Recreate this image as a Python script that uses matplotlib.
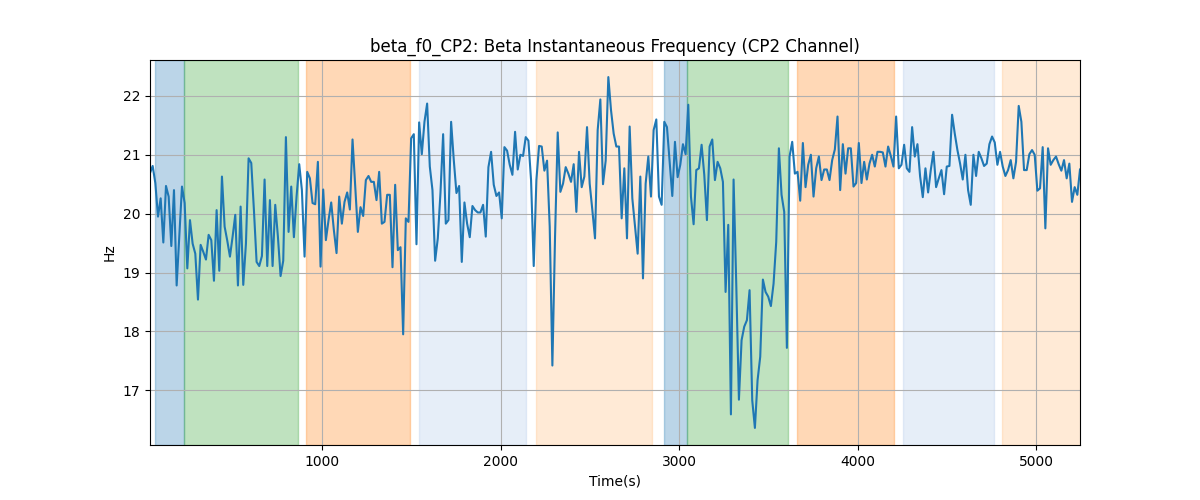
import numpy as np
import matplotlib.pyplot as plt

#================== DATA ===================
t_start = 33
t_end = 5247

freq_hz = [
    20.69, 20.81, 20.52, 19.95, 20.26, 19.51, 20.47, 20.29, 19.45, 20.40, 18.78, 19.61,
    20.46, 20.18, 19.07, 19.89, 19.49, 19.32, 18.54, 19.47, 19.35, 19.22, 19.64, 19.55,
    18.86, 20.06, 19.03, 20.63, 19.78, 19.54, 19.27, 19.61, 19.98, 18.78, 20.12, 18.79,
    19.49, 20.94, 20.86, 20.06, 19.18, 19.11, 19.28, 20.58, 19.11, 20.23, 19.11, 20.15,
    19.61, 18.94, 19.20, 21.30, 19.69, 20.46, 19.60, 20.29, 20.84, 20.40, 19.27, 20.71,
    20.60, 20.18, 20.16, 20.88, 19.10, 20.41, 19.55, 19.89, 20.19, 19.72, 19.33, 20.29,
    # ~1100 s
    19.83, 20.20, 20.36, 20.07, 21.26, 20.46, 19.69, 20.11, 19.96, 20.57, 20.64, 20.54,
    20.54, 20.23, 20.71, 19.83, 19.86, 20.32, 20.32, 19.09, 20.49, 19.38, 19.43, 17.95,
    19.92, 19.86, 21.28, 21.35, 19.48, 21.55, 21.01, 21.56, 21.87, 20.80, 20.40, 19.20,
    19.58, 20.35, 21.35, 19.83, 19.89, 21.56, 20.91, 20.35, 20.47, 19.18, 20.19, 19.83,
    19.60, 20.13, 20.06, 20.02, 20.02, 20.15, 19.61, 20.79, 21.05, 20.49, 20.30, 20.36,
    19.92, 21.13, 21.07, 20.83, 20.66, 21.39, 20.75, 21.00, 20.98, 21.30, 21.24,
    # ~2150 s
    20.57, 19.11, 20.57, 21.15, 21.14, 20.73, 20.90, 19.78, 17.42, 19.61, 21.38, 20.37,
    20.51, 20.79, 20.68, 20.54, 20.84, 20.03, 21.05, 20.45, 20.63, 21.47, 20.51, 20.06,
    19.58, 21.42, 21.94, 20.50, 20.90, 22.32, 21.76, 21.36, 21.14, 21.14, 19.92, 20.77,
    19.58, 21.48, 20.26, 19.78, 19.32, 20.63, 18.90, 20.51, 20.97, 20.29, 21.42, 21.60,
    20.29, 20.15, 21.56, 21.47, 20.88, 20.30, 21.22, 20.62, 20.83, 21.18, 21.01, 21.85,
    20.29, 19.82, 20.74, 20.77, 21.17, 20.66, 19.89, 21.14, 21.26, 20.57, 20.88,
    # ~3200 s
    20.77, 20.54, 18.67, 19.81, 16.59, 20.58, 18.81, 16.84, 17.85, 18.08, 18.19, 18.70,
    16.83, 16.36, 17.17, 17.57, 18.88, 18.67, 18.59, 18.43, 18.81, 19.52, 21.11, 20.32,
    20.03, 17.72, 20.97, 21.22, 20.68, 20.71, 20.22, 21.20, 20.45, 20.83, 21.00, 20.29,
    20.77, 20.97, 20.57, 20.75, 20.75, 20.57, 20.91, 21.09, 21.65, 20.40, 21.18, 20.68,
    21.11, 21.11, 20.46, 20.52, 21.20, 20.52, 20.88, 20.58, 20.85, 21.00, 20.80, 21.05,
    21.05, 21.04, 20.80, 21.14, 20.98, 20.80, 21.65, 20.77, 20.83, 21.17, 20.77, 20.71,
    # ~4300 s
    21.47, 20.97, 21.18, 20.63, 20.28, 20.77, 20.36, 20.74, 21.05, 20.45, 20.60, 20.74,
    20.33, 20.80, 20.81, 21.68, 21.36, 21.08, 20.85, 20.58, 21.00, 20.40, 20.15, 21.00,
    20.64, 21.05, 20.94, 20.81, 20.85, 21.18, 21.31, 21.21, 20.83, 21.05, 20.80, 20.64,
    20.74, 20.91, 20.60, 20.88, 21.83, 21.56, 20.74, 20.74, 21.01, 21.08, 21.00, 20.39,
    20.43, 21.13, 19.75, 21.11, 20.83, 20.91, 20.97, 20.84, 20.73, 20.91, 20.60, 20.85,
    20.20, 20.45, 20.32, 20.75,
]

# shaded segments (start, end, colour, alpha)
seg_start = [63, 225, 908, 1539, 2199, 2913, 3046, 3659, 4256, 4809]
seg_end = [225, 863, 1488, 2143, 2850, 3046, 3612, 4202, 4764, 5300]
seg_color = ['tab:blue', 'tab:green', 'tab:orange', '#aec7e8', '#ffbb78',
             'tab:blue', 'tab:green', 'tab:orange', '#aec7e8', '#ffbb78']
seg_alpha = [0.3, 0.3, 0.3, 0.3, 0.3, 0.3, 0.3, 0.3, 0.3, 0.3]

t = np.linspace(t_start, t_end, len(freq_hz))

#================== PLOT ===================
fig, ax = plt.subplots(figsize=(12, 5), dpi=100)
for s, e, c, a in zip(seg_start, seg_end, seg_color, seg_alpha):
    ax.axvspan(s, e, color=c, alpha=a)
ax.plot(t, freq_hz, color='tab:blue', linewidth=1.5)
ax.set_xlim(t[0], t[-1])
ax.set_ylim(16.07, 22.61)
ax.grid(True)
ax.set_title('beta_f0_CP2: Beta Instantaneous Frequency (CP2 Channel)')
ax.set_xlabel('Time(s)')
ax.set_ylabel('Hz')
plt.savefig('out.png')
